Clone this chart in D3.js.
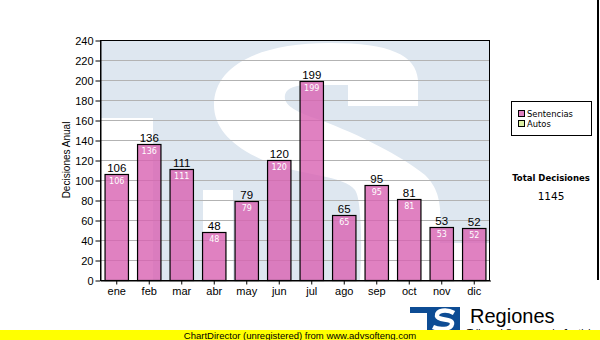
<!DOCTYPE html>
<html>
<head>
<meta charset="utf-8">
<script src="https://cdn.jsdelivr.net/npm/d3@7/dist/d3.min.js"></script>
<style>
  html, body { margin: 0; padding: 0; background: #fff; }
  svg { display: block; }
</style>
</head>
<body>
<script>
// Monthly decisions
const months = ["ene", "feb", "mar", "abr", "may", "jun", "jul", "ago", "sep", "oct", "nov", "dic"];
const sentencias = [106, 136, 111, 48, 79, 120, 199, 65, 95, 81, 53, 52];
const seriesNames = ["Sentencias", "Autos"];
const seriesColors = ["#df80c0", "#dcefa2"];
const yTicks = [0, 20, 40, 60, 80, 100, 120, 140, 160, 180, 200, 220, 240];

const W = 600, H = 340;
const plot = { left: 100, top: 40, right: 490, bottom: 280 };

const svg = d3.select("body").append("svg").attr("width", W).attr("height", H);
svg.append("rect").attr("width", W).attr("height", H).attr("fill", "#fff");

const x = d3.scaleBand().domain(months).range([plot.left, plot.right])
  .paddingInner(0.28).paddingOuter(0.14);
const y = d3.scaleLinear().domain([0, 240]).range([plot.bottom, plot.top]);

// Background emblem inside the plot area
svg.append("clipPath").attr("id", "plotClip").append("rect")
  .attr("x", plot.left).attr("y", plot.top)
  .attr("width", plot.right - plot.left).attr("height", plot.bottom - plot.top);
const wm = svg.append("g").attr("clip-path", "url(#plotClip)");
wm.append("rect").attr("x", plot.left).attr("y", plot.top)
  .attr("width", plot.right - plot.left).attr("height", plot.bottom - plot.top)
  .attr("fill", "#dee7f0");
wm.append("rect").attr("x", 101).attr("y", 118).attr("width", 52).attr("height", 170).attr("fill", "#fff");
wm.append("path").attr("fill", "#fff").attr("d",
  "M418,106 L418,80 C416,55 390,43 330,43 C260,43 214,65 214,105 " +
  "C214,130 235,150 275,165 C300,174 345,176 355,190 C362,200 362,250 360,280 " +
  "L358,300 L233,300 L233,190 L203,190 L203,330 L492,330 L492,243 L440,243 " +
  "C442,205 440,190 425,175 C400,155 360,135 320,120 C295,112 283,105 285,95 " +
  "C287,86 300,85 310,85 L348,85 L348,106 Z");

// Horizontal grid
svg.append("g").selectAll("line").data(yTicks.filter(d => d > 0 && d < 240)).join("line")
  .attr("x1", plot.left).attr("x2", plot.right)
  .attr("y1", d => y(d) + 0.5).attr("y2", d => y(d) + 0.5)
  .attr("stroke", "#b3b3b3").attr("stroke-width", 1);

// Bars
svg.append("g").selectAll("rect").data(sentencias).join("rect")
  .attr("x", (d, i) => x(months[i]) + 0.5)
  .attr("y", d => y(d) + 0.5)
  .attr("width", x.bandwidth())
  .attr("height", d => y(0) - y(d))
  .attr("fill", "#d862b2").attr("fill-opacity", 0.8)
  .attr("stroke", "#000").attr("stroke-width", 1.2);

// Plot frame
svg.append("rect").attr("x", plot.left + 0.5).attr("y", plot.top + 0.5)
  .attr("width", plot.right - plot.left - 1).attr("height", plot.bottom - plot.top)
  .attr("fill", "none").attr("stroke", "#000").attr("stroke-width", 1);

// Axes
const yAxis = svg.append("g").attr("transform", `translate(${plot.left + 0.5},0.5)`)
  .call(d3.axisLeft(y).tickValues(yTicks).tickSize(5).tickSizeOuter(0).tickPadding(2));
const xAxis = svg.append("g").attr("transform", `translate(0.5,${plot.bottom + 0.5})`)
  .call(d3.axisBottom(x).tickSize(4).tickSizeOuter(0).tickPadding(3));
[yAxis, xAxis].forEach(a => {
  a.selectAll("path, line").attr("stroke", "#000");
  a.selectAll("text").attr("fill", "#000").style("font", "11px 'Liberation Sans', Arial, sans-serif");
});

// Value labels
svg.append("g").selectAll("text").data(sentencias).join("text")
  .attr("x", (d, i) => x(months[i]) + x.bandwidth() / 2 + 0.5)
  .attr("y", d => y(d) - 2)
  .attr("text-anchor", "middle")
  .style("font", "11.5px 'Liberation Sans', Arial, sans-serif")
  .attr("fill", "#000")
  .text(d => d);
svg.append("g").selectAll("text").data(sentencias).join("text")
  .attr("x", (d, i) => x(months[i]) + x.bandwidth() / 2 + 0.5)
  .attr("y", d => y(d) + 10)
  .attr("text-anchor", "middle")
  .style("font", "8px 'DejaVu Sans', Verdana, sans-serif")
  .attr("fill", "#fff")
  .text(d => d);

// Axis title
svg.append("text")
  .attr("transform", "translate(70,160) rotate(-90)")
  .attr("text-anchor", "middle")
  .style("font", "10px 'Liberation Sans', Arial, sans-serif")
  .attr("fill", "#000")
  .text("Decisiones Anual");

// Legend
const lg = svg.append("g");
lg.append("rect").attr("x", 511.5).attr("y", 101.5).attr("width", 80).attr("height", 34)
  .attr("fill", "#fff").attr("stroke", "#000");
const items = lg.selectAll("g").data(seriesNames).join("g")
  .attr("transform", (d, i) => `translate(0,${i * 10})`);
items.append("rect").attr("x", 518.5).attr("y", 110.5).attr("width", 6).attr("height", 6)
  .attr("fill", (d, i) => seriesColors[i]).attr("stroke", "#000");
items.append("text").attr("x", 527).attr("y", 117)
  .style("font", "8.4px 'DejaVu Sans', Verdana, sans-serif").attr("fill", "#000")
  .text(d => d);

// Total
svg.append("text").attr("x", 551).attr("y", 181).attr("text-anchor", "middle")
  .style("font", "bold 8.5px 'DejaVu Sans', Verdana, sans-serif").attr("fill", "#000")
  .text("Total Decisiones");
svg.append("text").attr("x", 551).attr("y", 200).attr("text-anchor", "middle")
  .style("font", "10.5px 'DejaVu Sans', Verdana, sans-serif").attr("fill", "#000")
  .text(d3.sum(sentencias));

// Right frame line
svg.append("line").attr("x1", 598).attr("x2", 598).attr("y1", 0).attr("y2", 280)
  .attr("stroke", "#000").attr("stroke-width", 2);

// Logo
const logo = svg.append("g");
logo.append("rect").attr("x", 410).attr("y", 307).attr("width", 50).attr("height", 6).attr("fill", "#0d4c94");
logo.append("rect").attr("x", 427).attr("y", 307).attr("width", 33).attr("height", 24).attr("fill", "#0d4c94");
logo.append("path").attr("fill", "none").attr("stroke", "#fff").attr("stroke-width", 4.5)
  .attr("d", "M454,313 C447,309 436,310 437,316 C438,321 453,318 452,324 C451,330 439,330 433,327");
svg.append("text").attr("x", 470).attr("y", 323)
  .style("font", "20px 'Liberation Sans', Arial, sans-serif").attr("fill", "#000")
  .text("Regiones");
svg.append("text").attr("x", 467).attr("y", 337)
  .style("font", "10px 'Liberation Sans', Arial, sans-serif").attr("fill", "#000")
  .text("Tribunal Supremo de Justicia");

// Footer
svg.append("rect").attr("x", 0).attr("y", 330).attr("width", W).attr("height", 10).attr("fill", "#ffff00");
svg.append("text").attr("x", 300).attr("y", 338.5).attr("text-anchor", "middle")
  .style("font", "9.5px 'Liberation Sans', Arial, sans-serif").attr("fill", "#000")
  .text("ChartDirector (unregistered) from www.advsofteng.com");
</script>
</body>
</html>
